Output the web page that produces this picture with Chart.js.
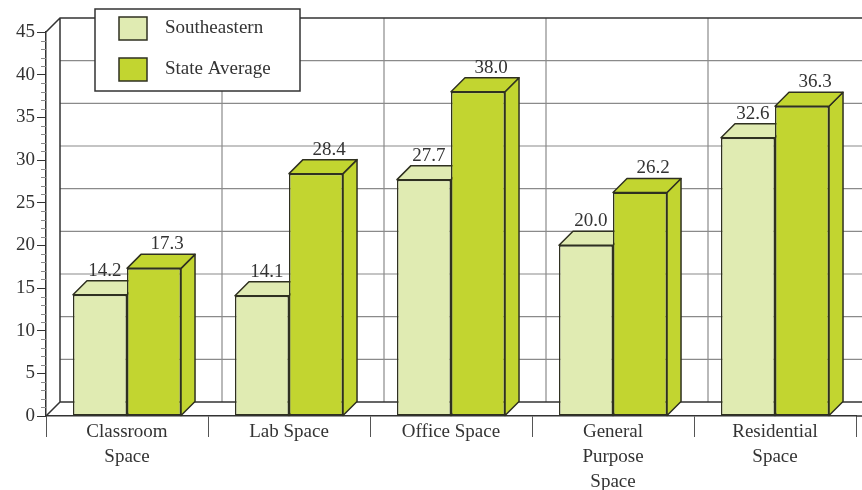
<!DOCTYPE html>
<html>
<head>
<meta charset="utf-8">
<script src="https://cdn.jsdelivr.net/npm/chart.js@4.4.0/dist/chart.umd.min.js"></script>
<style>
html, body { margin: 0; padding: 0; background: #fff; }
#wrap { width: 862px; height: 490px; position: relative; }
</style>
</head>
<body>
<div id="wrap"><canvas id="spaceChart" width="862" height="490"></canvas></div>
<script>
// data
const categories = [["Classroom", "Space"], "Lab Space", "Office Space", ["General", "Purpose", "Space"], ["Residential", "Space"]];
const southeastern = [14.2, 14.1, 27.7, 20.0, 32.6];
const stateAverage = [17.3, 28.4, 38.0, 26.2, 36.3];
const seriesNames = ["Southeastern", "State Average"];
const yMax = 45;
const yStep = 5;

const colors = ["#e0ebb2", "#c2d530"];
const outline = "#2f3020";
const FONT = "'Liberation Serif', 'Times New Roman', serif";
const DX = 14, DY = 14; // depth of the 3d look
const labelShift = [5, 13];

const threeD = {
    id: "threeD",
    beforeDatasetsDraw(chart) {
        const ctx = chart.ctx;
        const area = chart.chartArea;
        const xs = chart.scales.x, ys = chart.scales.y;
        const W = chart.width;
        const step = xs.getPixelForValue(1) - xs.getPixelForValue(0);
        const first = xs.getPixelForValue(0) - step / 2;
        ctx.save();
        // back wall grid
        ctx.lineWidth = 1.2;
        ctx.strokeStyle = "#8a8a8a";
        for (let v = yStep; v < yMax; v += yStep) {
            const py = ys.getPixelForValue(v) - DY;
            ctx.beginPath(); ctx.moveTo(area.left + DX, py); ctx.lineTo(W, py); ctx.stroke();
        }
        for (let i = 1; i <= categories.length; i++) {
            const px = first + i * step + DX;
            ctx.beginPath(); ctx.moveTo(px, area.top - DY); ctx.lineTo(px, area.bottom - DY); ctx.stroke();
        }
        // wall edges
        ctx.strokeStyle = "#333";
        ctx.lineWidth = 1.5;
        ctx.beginPath();
        ctx.moveTo(area.left, area.top); ctx.lineTo(area.left + DX, area.top - DY); ctx.lineTo(W, area.top - DY);
        ctx.moveTo(area.left + DX, area.top - DY); ctx.lineTo(area.left + DX, area.bottom - DY); ctx.lineTo(W, area.bottom - DY);
        ctx.moveTo(area.left, area.bottom); ctx.lineTo(area.left + DX, area.bottom - DY);
        ctx.stroke();
        // minor ticks
        ctx.strokeStyle = "#888";
        ctx.lineWidth = 1;
        for (let v = 1; v < yMax; v++) {
            if (v % yStep === 0) continue;
            const py = Math.round(ys.getPixelForValue(v)) + 0.5;
            ctx.beginPath(); ctx.moveTo(area.left - 5, py); ctx.lineTo(area.left, py); ctx.stroke();
        }
        // top and side faces of each bar
        ctx.lineWidth = 1.5;
        ctx.strokeStyle = outline;
        ctx.lineJoin = "round";
        chart.data.datasets.forEach((ds, di) => {
            chart.getDatasetMeta(di).data.forEach(bar => {
                const l = bar.x - bar.width / 2, r = bar.x + bar.width / 2;
                ctx.fillStyle = colors[di];
                ctx.beginPath();
                ctx.moveTo(r, bar.y); ctx.lineTo(r + DX, bar.y - DY); ctx.lineTo(r + DX, bar.base - DY); ctx.lineTo(r, bar.base);
                ctx.closePath(); ctx.fill(); ctx.stroke();
                ctx.beginPath();
                ctx.moveTo(l, bar.y); ctx.lineTo(l + DX, bar.y - DY); ctx.lineTo(r + DX, bar.y - DY); ctx.lineTo(r, bar.y);
                ctx.closePath(); ctx.fill(); ctx.stroke();
            });
        });
        ctx.restore();
    },
    afterDatasetsDraw(chart) {
        const ctx = chart.ctx;
        ctx.save();
        ctx.font = "19px " + FONT;
        ctx.fillStyle = "#333";
        ctx.textAlign = "center";
        ctx.textBaseline = "alphabetic";
        chart.data.datasets.forEach((ds, di) => {
            chart.getDatasetMeta(di).data.forEach((bar, i) => {
                ctx.fillText(ds.data[i].toFixed(1), bar.x + labelShift[di], bar.y - DY - 5);
            });
        });
        ctx.restore();
    },
    afterDraw(chart) {
        const ctx = chart.ctx;
        const area = chart.chartArea;
        ctx.save();
        // floor front edge runs to the canvas edge
        ctx.strokeStyle = "#333";
        ctx.lineWidth = 1.5;
        ctx.beginPath(); ctx.moveTo(area.right, area.bottom); ctx.lineTo(chart.width, area.bottom); ctx.stroke();
        // legend
        ctx.fillStyle = "#fff";
        ctx.fillRect(95, 9, 205, 82);
        ctx.strokeRect(95, 9, 205, 82);
        ctx.font = "19px " + FONT;
        ctx.textBaseline = "middle";
        seriesNames.forEach((name, i) => {
            const sy = 17 + i * 41;
            ctx.fillStyle = colors[i];
            ctx.fillRect(119, sy, 28, 23);
            ctx.strokeStyle = outline;
            ctx.strokeRect(119, sy, 28, 23);
            ctx.fillStyle = "#333";
            ctx.fillText(name, 165, sy + 11);
        });
        ctx.restore();
    }
};

new Chart(document.getElementById("spaceChart"), {
    type: "bar",
    data: {
        labels: categories,
        datasets: [
            { label: seriesNames[0], data: southeastern, backgroundColor: colors[0], borderColor: outline, borderWidth: 1.5, borderSkipped: false },
            { label: seriesNames[1], data: stateAverage, backgroundColor: colors[1], borderColor: outline, borderWidth: 1.5, borderSkipped: false }
        ]
    },
    options: {
        responsive: false,
        animation: false,
        maintainAspectRatio: false,
        layout: { padding: { top: 32, right: 6, left: 0, bottom: 0 } },
        categoryPercentage: 0.667,
        barPercentage: 1,
        plugins: { legend: { display: false }, tooltip: { enabled: false } },
        scales: {
            x: {
                afterFit(scale) { scale.height = 74; },
                grid: { drawOnChartArea: false, tickLength: 21, color: "#555", offset: true },
                border: { display: true, color: "#333", width: 1.5 },
                ticks: { color: "#333", padding: -17, maxRotation: 0, autoSkip: false, font: { family: FONT, size: 19, lineHeight: 1.3 } }
            },
            y: {
                min: 0,
                max: yMax,
                afterFit(scale) { scale.width = 46; },
                grid: { drawOnChartArea: false, tickLength: 9, color: "#333" },
                border: { display: true, color: "#333", width: 1.5 },
                ticks: { stepSize: yStep, color: "#333", padding: 2, font: { family: FONT, size: 19 } }
            }
        }
    },
    plugins: [threeD]
});
</script>
</body>
</html>
